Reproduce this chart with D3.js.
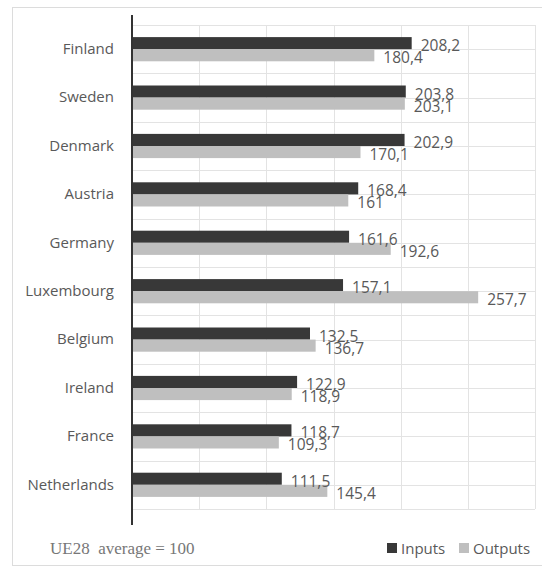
<!DOCTYPE html>
<html>
<head>
<meta charset="utf-8">
<script src="https://cdn.jsdelivr.net/npm/d3@7"></script>
<style>
  html, body { margin: 0; padding: 0; background: #fff; }
  svg { display: block; }
</style>
</head>
<body>
<svg id="chart" width="542" height="567"></svg>
<script>
// Countries, top to bottom
const countries = ["Finland", "Sweden", "Denmark", "Austria", "Germany",
                   "Luxembourg", "Belgium", "Ireland", "France", "Netherlands"];
// Index values (EU28 average = 100)
const inputs  = [208.2, 203.8, 202.9, 168.4, 161.6, 157.1, 132.5, 122.9, 118.7, 111.5];
const outputs = [180.4, 203.1, 170.1, 161, 192.6, 257.7, 136.7, 118.9, 109.3, 145.4];
const seriesNames = ["Inputs", "Outputs"];
const gridTicks = [50, 100, 150, 200, 250, 300];
const note = "UE28\u00a0 average = 100";

const colors = { Inputs: "#383838", Outputs: "#bfbfbf" };
const textColor = "#595959";
const sans = "'Open Sans', sans-serif";

const svg = d3.select("#chart");

// outer frame
svg.append("rect")
  .attr("x", 12.5).attr("y", 7.5)
  .attr("width", 540).attr("height", 558)
  .attr("fill", "#fff").attr("stroke", "#dcdcdc").attr("stroke-width", 1);

const x = d3.scaleLinear().domain([0, 300]).range([132, 535]);
const y = d3.scaleBand().domain(countries).range([25, 509]).padding(0);
const ySeries = d3.scaleBand().domain(seriesNames)
  .range([0, y.bandwidth()]).paddingInner(0).paddingOuter(1);

const rows = countries.map((c, i) => ({ country: c, Inputs: inputs[i], Outputs: outputs[i] }));

// horizontal gridlines: band edges and band centres
const hLines = [];
countries.forEach(c => { hLines.push(y(c)); hLines.push(y(c) + y.bandwidth() / 2); });
hLines.push(y.range()[1]);
svg.append("g").selectAll("line").data(hLines).join("line")
  .attr("x1", x(0)).attr("x2", x(300))
  .attr("y1", d => Math.round(d) + 0.5).attr("y2", d => Math.round(d) + 0.5)
  .attr("stroke", "#e3e3e3").attr("stroke-width", 1);

// vertical gridlines
svg.append("g").selectAll("line").data(gridTicks).join("line")
  .attr("x1", d => Math.round(x(d)) + 0.5).attr("x2", d => Math.round(x(d)) + 0.5)
  .attr("y1", y.range()[0]).attr("y2", y.range()[1])
  .attr("stroke", "#e3e3e3").attr("stroke-width", 1);

// bars
const groups = svg.append("g").selectAll("g").data(rows).join("g")
  .attr("transform", d => `translate(0,${y(d.country)})`);

groups.selectAll("rect").data(d => seriesNames.map(s => ({ s, v: d[s] }))).join("rect")
  .attr("x", x(0))
  .attr("y", d => ySeries(d.s))
  .attr("width", d => x(d.v) - x(0))
  .attr("height", ySeries.bandwidth())
  .attr("fill", d => colors[d.s]);

// value labels
const fmt = v => String(v).replace(".", ",");
groups.selectAll("text.val").data(d => seriesNames.map(s => ({ s, v: d[s] }))).join("text")
  .attr("class", "val")
  .attr("x", d => x(d.v) + 9)
  .attr("y", d => ySeries(d.s) + ySeries.bandwidth() / 2 + 8)
  .attr("font-family", sans).attr("font-size", 15.5)
  .attr("fill", textColor)
  .text(d => fmt(d.v));

// category axis
const yAxis = svg.append("g")
  .attr("transform", `translate(${x(0)},0)`)
  .call(d3.axisLeft(y).tickSize(0).tickPadding(18));
yAxis.select(".domain").remove();
yAxis.selectAll("text")
  .attr("font-family", sans).attr("font-size", 15)
  .attr("fill", textColor);

// axis line
svg.append("line")
  .attr("x1", x(0)).attr("x2", x(0))
  .attr("y1", 15).attr("y2", 525)
  .attr("stroke", "#333").attr("stroke-width", 2);

// note
svg.append("text")
  .attr("x", 50).attr("y", 554)
  .attr("font-family", "'Liberation Serif', 'Times New Roman', serif")
  .attr("font-size", 17).attr("fill", "#777")
  .text(note);

// legend
const legendX = [387, 459];
const legend = svg.append("g").selectAll("g").data(seriesNames).join("g")
  .attr("transform", (d, i) => `translate(${legendX[i]},543)`);
legend.append("rect")
  .attr("width", 10).attr("height", 10)
  .attr("fill", d => colors[d]);
legend.append("text")
  .attr("x", 14).attr("y", 11)
  .attr("font-family", sans).attr("font-size", 15)
  .attr("fill", textColor)
  .text(d => d);
</script>
</body>
</html>
